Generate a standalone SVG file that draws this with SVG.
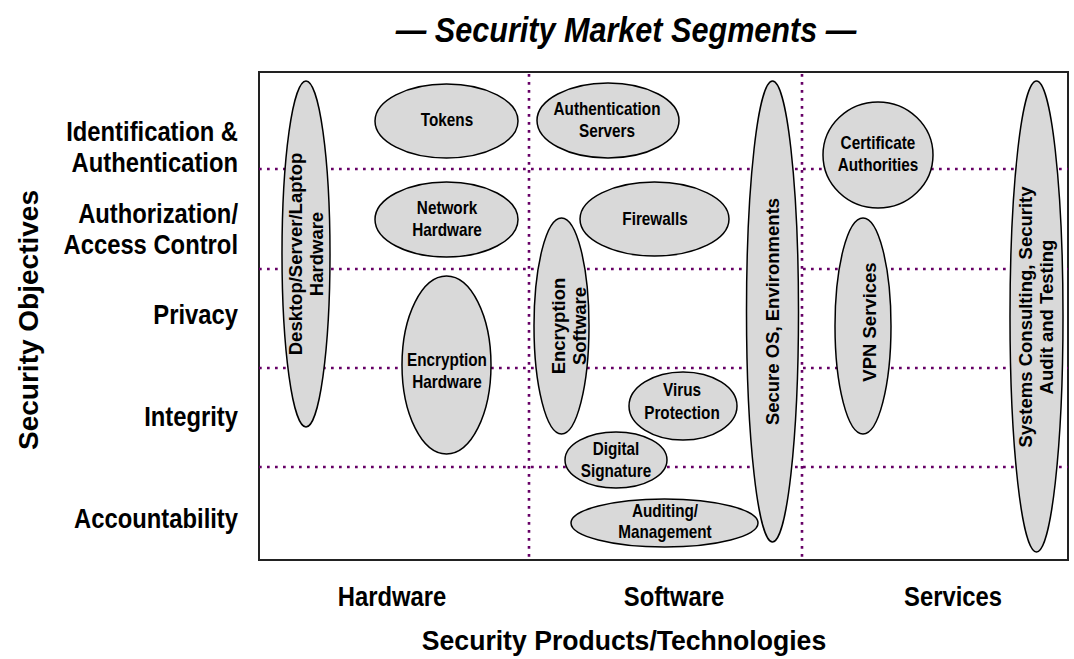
<svg xmlns="http://www.w3.org/2000/svg" width="1074" height="659" viewBox="0 0 1074 659">
  <style>
    text { font-family: "Liberation Sans", Arial, sans-serif; font-weight: bold; fill: #000; }
    .title { font-size: 36px; font-style: italic; text-anchor: middle; }
    .axis { font-size: 28px; }
    .row { font-size: 28px; text-anchor: end; }
    .col { font-size: 28px; text-anchor: middle; }
    .lbl { font-size: 18px; text-anchor: middle; }
    .vlbl { font-size: 18.5px; text-anchor: middle; }
    .grid { stroke: #660066; stroke-width: 2.6; stroke-dasharray: 2.7 5.3; fill: none; }
    .frame { fill: #fff; stroke: #222; stroke-width: 2; }
    .seg ellipse { fill: #d9d9d9; stroke: #000; stroke-width: 1.5; }
  </style>

  <!-- title -->
  <text class="title" transform="translate(626,42) scale(0.85,1)">— Security Market Segments —</text>

  <!-- matrix frame -->
  <rect class="frame" x="259" y="72" width="809" height="488"/>

  <!-- row / column separators -->
  <g id="grid">
    <line class="grid" x1="259" y1="169" x2="1068" y2="169"/>
    <line class="grid" x1="259" y1="269" x2="1068" y2="269"/>
    <line class="grid" x1="259" y1="368" x2="1068" y2="368"/>
    <line class="grid" x1="259" y1="467" x2="1068" y2="467"/>
    <line class="grid" x1="529" y1="74" x2="529" y2="560"/>
    <line class="grid" x1="802" y1="74" x2="802" y2="560"/>
  </g>

  <!-- row headings -->
  <g id="rows">
    <text class="row" transform="translate(238,141) scale(0.85,1)">Identification &amp;</text>
    <text class="row" transform="translate(238,172) scale(0.85,1)">Authentication</text>
    <text class="row" transform="translate(238,223) scale(0.85,1)">Authorization/</text>
    <text class="row" transform="translate(238,254) scale(0.85,1)">Access Control</text>
    <text class="row" transform="translate(238,324) scale(0.85,1)">Privacy</text>
    <text class="row" transform="translate(238,426) scale(0.85,1)">Integrity</text>
    <text class="row" transform="translate(238,528) scale(0.85,1)">Accountability</text>
  </g>
  <text class="axis" text-anchor="middle" transform="translate(38,320) rotate(-90)">Security Objectives</text>

  <!-- column headings -->
  <g id="cols">
    <text class="col" transform="translate(392,606) scale(0.85,1)">Hardware</text>
    <text class="col" transform="translate(674,606) scale(0.85,1)">Software</text>
    <text class="col" transform="translate(953,606) scale(0.85,1)">Services</text>
  </g>
  <text class="axis" text-anchor="middle" transform="translate(624,650) scale(0.95,1)">Security Products/Technologies</text>

  <!-- market segments -->
  <g class="seg">
    <g id="desktop-hw">
      <ellipse cx="306" cy="254" rx="24" ry="173"/>
      <text class="vlbl" transform="translate(302,254) rotate(-90)">Desktop/Server/Laptop</text>
      <text class="vlbl" transform="translate(323,254) rotate(-90)">Hardware</text>
    </g>
    <g id="tokens">
      <ellipse cx="446.5" cy="121" rx="71.5" ry="37"/>
      <text class="lbl" transform="translate(447,126) scale(0.85,1)">Tokens</text>
    </g>
    <g id="network-hw">
      <ellipse cx="446.5" cy="219.5" rx="71.5" ry="37.5"/>
      <text class="lbl" transform="translate(447,214) scale(0.85,1)">Network</text>
      <text class="lbl" transform="translate(447,236) scale(0.85,1)">Hardware</text>
    </g>
    <g id="encryption-hw">
      <ellipse cx="446.5" cy="365" rx="44.5" ry="89"/>
      <text class="lbl" transform="translate(447,366) scale(0.85,1)">Encryption</text>
      <text class="lbl" transform="translate(447,388) scale(0.85,1)">Hardware</text>
    </g>
    <g id="auth-servers">
      <ellipse cx="608" cy="120.5" rx="71" ry="37.5"/>
      <text class="lbl" transform="translate(607,115) scale(0.85,1)">Authentication</text>
      <text class="lbl" transform="translate(607,137) scale(0.85,1)">Servers</text>
    </g>
    <g id="firewalls">
      <ellipse cx="654.5" cy="219" rx="74.5" ry="37"/>
      <text class="lbl" transform="translate(655,225) scale(0.85,1)">Firewalls</text>
    </g>
    <g id="encryption-sw">
      <ellipse cx="561.5" cy="326" rx="27.5" ry="108"/>
      <text class="vlbl" transform="translate(565,326) rotate(-90)">Encryption</text>
      <text class="vlbl" transform="translate(586,326) rotate(-90)">Software</text>
    </g>
    <g id="virus">
      <ellipse cx="683" cy="406" rx="54" ry="34"/>
      <text class="lbl" transform="translate(682,396) scale(0.85,1)">Virus</text>
      <text class="lbl" transform="translate(682,419) scale(0.85,1)">Protection</text>
    </g>
    <g id="signature">
      <ellipse cx="616" cy="460" rx="51" ry="28"/>
      <text class="lbl" transform="translate(616,455) scale(0.85,1)">Digital</text>
      <text class="lbl" transform="translate(616,477) scale(0.85,1)">Signature</text>
    </g>
    <g id="auditing">
      <ellipse cx="664.5" cy="523" rx="93.5" ry="24"/>
      <text class="lbl" transform="translate(665,517) scale(0.85,1)">Auditing/</text>
      <text class="lbl" transform="translate(665,538) scale(0.85,1)">Management</text>
    </g>
    <g id="secure-os">
      <ellipse cx="772.5" cy="311.5" rx="26" ry="230.5"/>
      <text class="vlbl" transform="translate(779,311.5) rotate(-90)">Secure OS, Environments</text>
    </g>
    <g id="cert-auth">
      <ellipse cx="878" cy="155" rx="55" ry="53"/>
      <text class="lbl" transform="translate(878,149) scale(0.85,1)">Certificate</text>
      <text class="lbl" transform="translate(878,171) scale(0.85,1)">Authorities</text>
    </g>
    <g id="vpn">
      <ellipse cx="863" cy="326" rx="28" ry="108"/>
      <text class="vlbl" transform="translate(876,322) rotate(-90)">VPN Services</text>
    </g>
    <g id="consulting">
      <ellipse cx="1036.5" cy="316.5" rx="26.5" ry="235.5"/>
      <text class="vlbl" transform="translate(1032,317) rotate(-90)">Systems Consulting, Security</text>
      <text class="vlbl" transform="translate(1053,317) rotate(-90)">Audit and Testing</text>
    </g>
  </g>
</svg>
